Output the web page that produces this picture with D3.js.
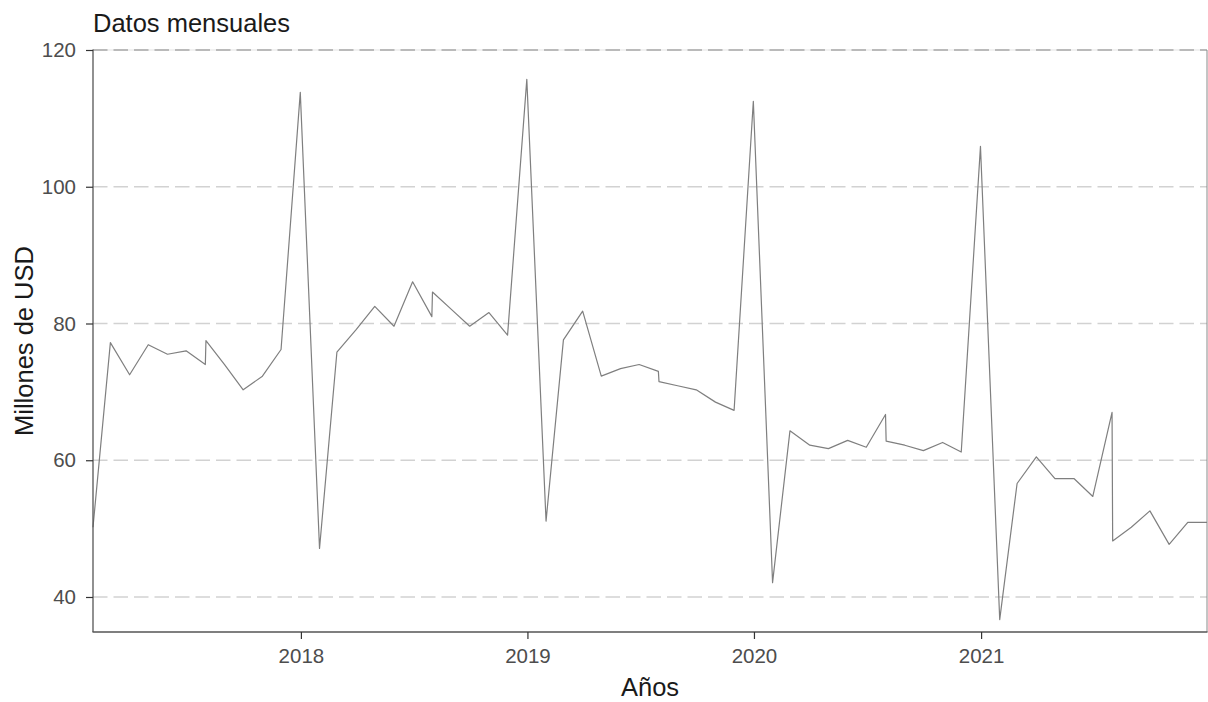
<!DOCTYPE html>
<html>
<head>
<meta charset="utf-8">
<script src="https://cdn.jsdelivr.net/npm/d3@7"></script>
<style>
  html, body { margin: 0; padding: 0; background: #ffffff; }
  svg { display: block; font-family: "Liberation Sans", Arial, sans-serif; }
</style>
</head>
<body>
<svg id="chart" width="1208" height="702"></svg>
<script>
// ---- Data ----
const years = [2017, 2018, 2019, 2020, 2021];
const monthDays = ["01-31","02-28","03-31","04-30","05-31","06-30","07-31","08-01","08-31","09-30","10-31","11-30","12-31"];
const values2017 = [50.2, 77.2, 72.5, 76.9, 75.5, 76.0, 74.0, 77.5, 74.0, 70.3, 72.3, 76.2, 113.8];
const values2018 = [47.1, 75.8, 79.1, 82.5, 79.6, 86.1, 81.0, 84.6, 82.1, 79.6, 81.6, 78.3, 115.7];
const values2019 = [51.1, 77.6, 81.8, 72.3, 73.4, 74.0, 73.0, 71.5, 70.9, 70.3, 68.5, 67.3, 112.5];
const values2020 = [42.1, 64.3, 62.2, 61.7, 62.9, 61.9, 66.7, 62.8, 62.2, 61.4, 62.6, 61.2, 105.9];
const values2021 = [36.7, 56.6, 60.5, 57.3, 57.3, 54.7, 67.0, 48.2, 50.2, 52.6, 47.7, 50.9, 50.9];
const yTicks = [40, 60, 80, 100, 120];
const xTickYears = [2018, 2019, 2020, 2021];
const titleText = "Datos mensuales";
const xTitle = "Años";
const yTitle = "Millones de USD";

const allValues = [values2017, values2018, values2019, values2020, values2021];
const parse = d3.timeParse("%Y-%m-%d");
const data = [];
years.forEach((yr, i) => {
  monthDays.forEach((md, j) => {
    data.push({ date: parse(yr + "-" + md), value: allValues[i][j] });
  });
});

// ---- Layout ----
const svg = d3.select("#chart");
const pL = 93, pR = 1207, pT = 50, pB = 632;

const x = d3.scaleTime()
  .domain([parse("2017-01-31"), parse("2021-12-31")])
  .range([pL, pR]);
const y = d3.scaleLinear()
  .domain([34.88, 120])
  .range([pB, pT]);

// gridlines
const grid = svg.append("g");
grid.append("line")
  .attr("x1", pL).attr("x2", pR)
  .attr("y1", y(120)).attr("y2", y(120))
  .attr("stroke", "#e4e4e4").attr("stroke-width", 1.2);
grid.selectAll("line.g").data(yTicks).enter().append("line")
  .attr("class", "g")
  .attr("x1", pL).attr("x2", pR)
  .attr("y1", d => y(d)).attr("y2", d => y(d))
  .attr("stroke", d => d === 120 ? "#a8a8a8" : "#d2d2d2")
  .attr("stroke-width", 1.3)
  .attr("stroke-dasharray", "14.5 6");

// right border
svg.append("line")
  .attr("x1", pR).attr("x2", pR)
  .attr("y1", pT).attr("y2", pB)
  .attr("stroke", "#8a8a8a").attr("stroke-width", 1);

// line
const line = d3.line()
  .x(d => x(d.date))
  .y(d => y(d.value));
svg.append("path")
  .datum(data)
  .attr("d", line)
  .attr("fill", "none")
  .attr("stroke", "#7f7f7f")
  .attr("stroke-width", 1.2)
  .attr("stroke-linejoin", "round");

// axes
const yAxis = d3.axisLeft(y).tickValues(yTicks).tickSize(7).tickPadding(10).tickFormat(d3.format("d"));
const gy = svg.append("g").attr("transform", `translate(${pL},0)`).call(yAxis);
gy.select(".domain").attr("stroke", "#555555").attr("stroke-width", 1.3)
  .attr("d", `M0,${pB}V${pT - 0.5}`);
gy.selectAll(".tick line").attr("stroke", "#333333").attr("stroke-width", 1.2);
gy.selectAll(".tick text").attr("fill", "#4d4d4d").style("font-size", "20.5px")
  .style("font-family", "'Liberation Sans', Arial, sans-serif");

const xAxis = d3.axisBottom(x)
  .tickValues(xTickYears.map(v => new Date(v, 0, 1)))
  .tickSize(7).tickPadding(9)
  .tickFormat(d3.timeFormat("%Y"));
const gx = svg.append("g").attr("transform", `translate(0,${pB})`).call(xAxis);
gx.select(".domain").attr("stroke", "#555555").attr("stroke-width", 1.3)
  .attr("d", `M${pL - 0.5},0H${pR + 0.5}`);
gx.selectAll(".tick line").attr("stroke", "#333333").attr("stroke-width", 1.2);
gx.selectAll(".tick text").attr("fill", "#4d4d4d").style("font-size", "20.5px")
  .style("font-family", "'Liberation Sans', Arial, sans-serif");

// titles
svg.append("text")
  .attr("x", pL).attr("y", 32)
  .attr("fill", "#1a1a1a")
  .style("font-size", "25.5px")
  .text(titleText);

svg.append("text")
  .attr("x", (pL + pR) / 2).attr("y", 696)
  .attr("text-anchor", "middle")
  .attr("fill", "#1a1a1a")
  .style("font-size", "25.5px")
  .text(xTitle);

svg.append("text")
  .attr("transform", `translate(32.5,${(pT + pB) / 2}) rotate(-90)`)
  .attr("text-anchor", "middle")
  .attr("fill", "#1a1a1a")
  .style("font-size", "25.5px")
  .text(yTitle);
</script>
</body>
</html>
